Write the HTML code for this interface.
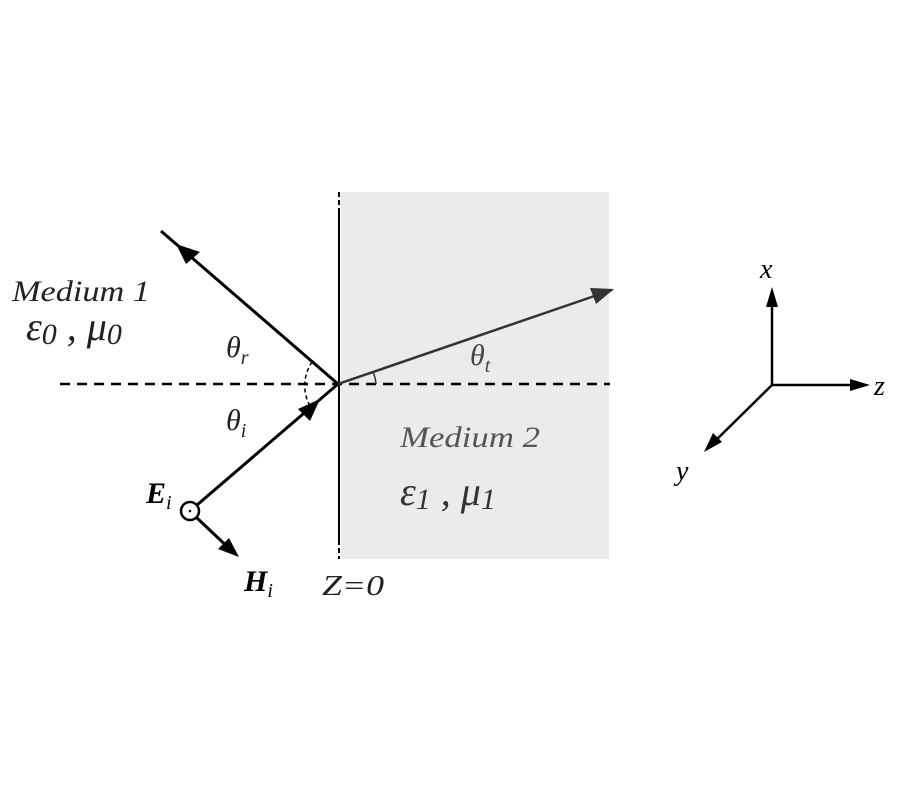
<!DOCTYPE html>
<html><head><meta charset="utf-8"><style>
html,body{margin:0;padding:0;background:#fff;}
svg{display:block;}
text{font-family:"Liberation Serif","DejaVu Serif",serif;font-style:italic;}
</style></head><body>
<svg width="900" height="800" viewBox="0 0 900 800" xmlns="http://www.w3.org/2000/svg">
<rect x="0" y="0" width="900" height="800" fill="#fff"/>
<rect x="341" y="192" width="268" height="367" fill="#ebebeb"/>
<line x1="339" y1="192" x2="339" y2="210" stroke="#000" stroke-width="2" stroke-dasharray="5,3"/>
<line x1="339" y1="210" x2="339" y2="540" stroke="#000" stroke-width="2"/>
<line x1="339" y1="540" x2="339" y2="559" stroke="#000" stroke-width="2" stroke-dasharray="5,3"/>
<line x1="60" y1="384" x2="610" y2="384" stroke="#000" stroke-width="2.5" stroke-dasharray="10,7"/>
<line x1="338" y1="384" x2="161" y2="231" stroke="#000" stroke-width="3"/>
<polygon points="176,244 200,252 186,264" fill="#000"/>
<line x1="190" y1="511" x2="338" y2="384" stroke="#000" stroke-width="3"/>
<polygon points="320,399 298,409 310,421" fill="#000"/>
<path d="M312,362 A42,42 0 0 0 310,406" fill="none" stroke="#000" stroke-width="1.5" stroke-dasharray="4,3"/>
<line x1="338" y1="384" x2="612" y2="290" stroke="#333" stroke-width="2.5"/>
<polygon points="614,289 590,288 596,304" fill="#333"/>
<path d="M373,372 A36,36 0 0 1 376,384" fill="none" stroke="#333" stroke-width="1.5"/>
<circle cx="190" cy="511" r="9" fill="#fff" stroke="#000" stroke-width="2.5"/>
<circle cx="190" cy="511" r="1.3" fill="#000"/>
<line x1="197" y1="518" x2="233" y2="552" stroke="#000" stroke-width="3"/>
<polygon points="239,557 218,549 229,538" fill="#000"/>
<line x1="772" y1="385" x2="772" y2="295" stroke="#000" stroke-width="2.5"/>
<polygon points="772,287 766,307 778,307" fill="#000"/>
<line x1="772" y1="385" x2="862" y2="385" stroke="#000" stroke-width="2.5"/>
<polygon points="870,385 850,379 850,391" fill="#000"/>
<line x1="772" y1="385" x2="710" y2="446" stroke="#000" stroke-width="2.5"/>
<polygon points="704,452 713,433 722,442" fill="#000"/>
<text x="760" y="278" font-size="28">x</text>
<text x="874" y="395" font-size="28">z</text>
<text x="676" y="480" font-size="28">y</text>
<text x="12" y="301" font-size="30" fill="#222" textLength="138" lengthAdjust="spacingAndGlyphs">Medium 1</text>
<text x="26" y="340" font-size="40" fill="#222">ε<tspan font-size="30" dy="4">0</tspan><tspan dy="-4"> , μ</tspan><tspan font-size="30" dy="4">0</tspan></text>
<text x="226" y="357" font-size="30" fill="#222">θ<tspan font-size="20" dy="7">r</tspan></text>
<text x="226" y="430" font-size="30" fill="#222">θ<tspan font-size="20" dy="7">i</tspan></text>
<text x="470" y="365" font-size="30" fill="#444">θ<tspan font-size="20" dy="7">t</tspan></text>
<text x="400" y="447" font-size="30" fill="#555" textLength="140" lengthAdjust="spacingAndGlyphs">Medium 2</text>
<text x="400" y="505" font-size="40" fill="#333">ε<tspan font-size="30" dy="4">1</tspan><tspan dy="-4"> , μ</tspan><tspan font-size="30" dy="4">1</tspan></text>
<text x="146" y="503" font-size="30" font-weight="bold" fill="#000">E<tspan font-size="20" font-weight="normal" dy="6">i</tspan></text>
<text x="244" y="591" font-size="30" font-weight="bold" fill="#000">H<tspan font-size="20" font-weight="normal" dy="6">i</tspan></text>
<text x="322" y="595" font-size="28" fill="#222" textLength="62" lengthAdjust="spacingAndGlyphs">Z=0</text>
</svg>
</body></html>
